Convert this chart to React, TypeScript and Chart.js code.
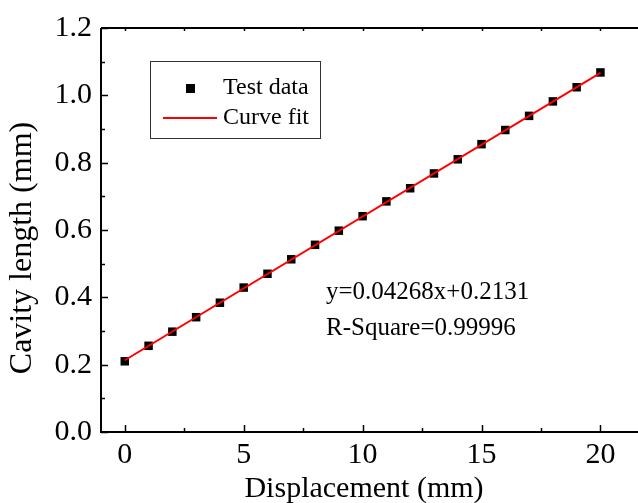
import React, { useEffect, useRef } from "react";
import { Chart, registerables } from "chart.js";
Chart.register(...registerables);

const displacement = [0, 1, 2, 3, 4, 5, 6, 7, 8, 9, 10, 11, 12, 13, 14, 15, 16, 17, 18, 19, 20];
const cavityLength = [0.210, 0.256, 0.298, 0.341, 0.384, 0.429, 0.470, 0.513, 0.556, 0.598, 0.641, 0.685, 0.724, 0.768, 0.810, 0.855, 0.897, 0.939, 0.982, 1.024, 1.068];
const fitX = [0, 20];
const fitY = [0.2131, 1.0667];
const xMajorTicks = [0, 5, 10, 15, 20];
const xMinorTicks = [2.5, 7.5, 12.5, 17.5];
const yMajorTicks = [0, 0.2, 0.4, 0.6, 0.8, 1.0, 1.2];
const yMinorTicks = [0.1, 0.3, 0.5, 0.7, 0.9, 1.1];
const xTitle = "Displacement (mm)";
const yTitle = "Cavity length (mm)";
const legendLabels = ["Test data", "Curve fit"];
const annotationLines = ["y=0.04268x+0.2131", "R-Square=0.99996"];

const FONT = "'Liberation Serif', 'Times New Roman', serif";

const decorPlugin = {
  id: "decor",
  afterDraw(chart: any) {
    const ctx = chart.ctx;
    const { left, right, top, bottom } = chart.chartArea;
    const xs = chart.scales.x;
    const ys = chart.scales.y;
    ctx.save();
    ctx.strokeStyle = "#000";
    ctx.lineWidth = 2;
    // frame
    ctx.beginPath();
    ctx.moveTo(left, top);
    ctx.lineTo(right, top);
    ctx.moveTo(left, top);
    ctx.lineTo(left, bottom);
    ctx.lineTo(right, bottom);
    ctx.moveTo(right, top);
    ctx.lineTo(right, bottom);
    ctx.stroke();
    // ticks
    ctx.lineWidth = 1.5;
    ctx.beginPath();
    xMajorTicks.forEach((v) => {
      const px = Math.round(xs.getPixelForValue(v)) + 0.5;
      ctx.moveTo(px, bottom);
      ctx.lineTo(px, bottom - 7);
      ctx.moveTo(px, top);
      ctx.lineTo(px, top + 3);
    });
    xMinorTicks.forEach((v) => {
      const px = Math.round(xs.getPixelForValue(v)) + 0.5;
      ctx.moveTo(px, bottom);
      ctx.lineTo(px, bottom - 4);
      ctx.moveTo(px, top);
      ctx.lineTo(px, top + 3);
    });
    yMajorTicks.forEach((v) => {
      const py = Math.round(ys.getPixelForValue(v)) + 0.5;
      ctx.moveTo(left, py);
      ctx.lineTo(left + 7, py);
    });
    yMinorTicks.forEach((v) => {
      const py = Math.round(ys.getPixelForValue(v)) + 0.5;
      ctx.moveTo(left, py);
      ctx.lineTo(left + 4, py);
    });
    ctx.stroke();

    // axis titles
    ctx.fillStyle = "#000";
    ctx.font = `30px ${FONT}`;
    ctx.textAlign = "center";
    ctx.textBaseline = "middle";
    ctx.fillText(xTitle, 364, 489);
    ctx.save();
    ctx.font = `32px ${FONT}`;
    ctx.translate(23, 248);
    ctx.rotate(-Math.PI / 2);
    ctx.fillText(yTitle, 0, 0);
    ctx.restore();

    // legend
    ctx.lineWidth = 1;
    ctx.strokeStyle = "#333";
    ctx.strokeRect(150.5, 61.5, 170, 77);
    ctx.fillStyle = "#000";
    ctx.fillRect(186, 84, 9, 9);
    ctx.strokeStyle = "#ff0000";
    ctx.lineWidth = 2;
    ctx.beginPath();
    ctx.moveTo(163, 118);
    ctx.lineTo(217, 118);
    ctx.stroke();
    ctx.fillStyle = "#000";
    ctx.font = `24px ${FONT}`;
    ctx.textAlign = "left";
    ctx.textBaseline = "middle";
    ctx.fillText(legendLabels[0], 223, 88);
    ctx.fillText(legendLabels[1], 223, 118);

    // annotation
    ctx.font = `25px ${FONT}`;
    ctx.fillText(annotationLines[0], 326, 292);
    ctx.fillText(annotationLines[1], 326, 328);
    ctx.restore();
  },
};

export default function App() {
  const ref = useRef<HTMLCanvasElement>(null);
  useEffect(() => {
    if (!ref.current) return;
    const chart = new Chart(ref.current, {
      type: "scatter",
      data: {
        datasets: [
          {
            label: legendLabels[1],
            data: fitX.map((x, i) => ({ x, y: fitY[i] })),
            showLine: true,
            borderColor: "#ff0000",
            borderWidth: 2,
            pointRadius: 0,
            order: 0,
          },
          {
            label: legendLabels[0],
            data: displacement.map((x, i) => ({ x, y: cavityLength[i] })),
            showLine: false,
            pointStyle: "rect",
            pointRadius: 6,
            backgroundColor: "#000",
            borderColor: "#000",
            borderWidth: 0,
            order: 1,
          },
        ],
      },
      options: {
        responsive: false,
        maintainAspectRatio: false,
        devicePixelRatio: 1,
        animation: false,
        layout: { padding: { top: 28, right: 12, left: 0, bottom: 0 } },
        plugins: { legend: { display: false }, tooltip: { enabled: false } },
        scales: {
          x: {
            type: "linear",
            min: -1,
            max: 22,
            afterBuildTicks: (s: any) => {
              s.ticks = xMajorTicks.map((v) => ({ value: v }));
            },
            afterFit: (s: any) => {
              s.height = 71;
            },
            grid: { display: false, drawTicks: false },
            border: { display: false },
            ticks: {
              padding: 5,
              color: "#000",
              font: { family: FONT, size: 30 },
              maxRotation: 0,
              callback: (v: any) => String(v),
            },
          },
          y: {
            type: "linear",
            min: 0,
            max: 1.2,
            afterBuildTicks: (s: any) => {
              s.ticks = yMajorTicks.map((v) => ({ value: v }));
            },
            afterFit: (s: any) => {
              s.width = 101;
            },
            grid: { display: false, drawTicks: false },
            border: { display: false },
            ticks: {
              padding: 9,
              color: "#000",
              font: { family: FONT, size: 30 },
              callback: (v: any) => Number(v).toFixed(1),
            },
          },
        },
      },
      plugins: [decorPlugin],
    });
    return () => chart.destroy();
  }, []);
  return (
    <div style={{ position: "fixed", left: 0, top: 0, width: 638, height: 503, overflow: "hidden", background: "#fff" }}>
      <canvas ref={ref} width={660} height={503} style={{ display: "block", width: 660, height: 503 }} />
    </div>
  );
}
